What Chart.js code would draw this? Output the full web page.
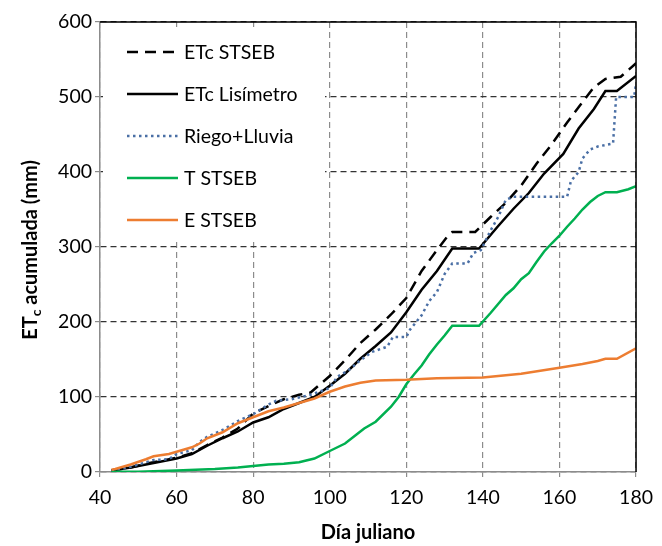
<!DOCTYPE html>
<html>
<head>
<meta charset="utf-8">
<script src="https://cdn.jsdelivr.net/npm/chart.js@4.4.1/dist/chart.umd.min.js"></script>
<style>
  html, body { margin: 0; padding: 0; background: #fff; }
</style>
</head>
<body>
<canvas id="chart" width="662" height="546"></canvas>
<script>
// ETc STSEB (dashed)
const stsebDays = [43, 48, 52, 56, 60, 64, 68, 72, 76, 80, 84, 88, 92, 95, 100, 104, 108, 112, 116, 120, 124, 128, 131, 132, 138, 142, 146, 150, 154, 158, 162, 166, 169, 172, 176, 180]
const stsebVals = [2, 6, 11, 15, 19, 25, 36, 46, 58, 78, 88, 97, 103, 106, 128, 149, 172, 190, 210, 232, 268, 296, 316, 320, 320, 340, 359, 382, 411, 437, 466, 493, 513, 524, 527, 545]

// ETc Lisímetro (solid)
const lisDays = [43, 48, 52, 56, 60, 64, 68, 72, 76, 80, 84, 88, 92, 96, 100, 104, 108, 112, 116, 120, 124, 128, 132, 139, 144, 148, 152, 156, 161, 165, 169, 172, 175, 180]
const lisVals = [2, 6, 10, 14, 18, 24, 35, 45, 54, 66, 73, 84, 92, 100, 115, 131, 151, 168, 186, 213, 243, 268, 298, 298, 328, 351, 372, 398, 424, 458, 484, 508, 508, 528]

// Riego+Lluvia (dotted)
const riegoDays = [43, 48, 52, 54, 58, 60, 64, 66, 68, 72, 76, 80, 84, 86, 90, 95, 100, 102, 105, 108, 111, 115, 116.5, 120, 121, 124, 126, 128, 130, 132, 136, 137.5, 139.5, 142, 144, 146, 148, 162, 163, 165, 166, 168, 170, 174, 174.8, 179.5, 180]
const riegoVals = [2, 7, 13, 16, 17, 24, 29, 40, 47, 56, 68, 77, 90, 95, 97, 103, 112, 127, 136, 149, 160, 167, 180, 180, 190, 209, 228, 240, 264, 278, 278, 292, 296, 322, 340, 363, 367, 367, 388, 400, 418, 430, 434, 438, 500, 500, 518]

// T STSEB
const tDays = [43, 50, 60, 70, 76, 80, 84, 88, 92, 96, 100, 104, 107, 109, 112, 116, 118, 120, 122, 124, 126, 128, 130, 132, 139, 142, 146, 148, 150, 152, 154, 156, 158, 160, 162, 164, 166, 168, 170, 172, 175, 178, 180]
const tVals = [0.5, 0.5, 2, 4, 6, 8, 10, 11, 13, 18, 28, 38, 50, 58, 67, 87, 100, 117, 130, 142, 157, 170, 182, 195, 195, 212, 236, 245, 257, 265, 280, 294, 305, 315, 327, 338, 350, 360, 368, 373, 373, 377, 381]

// E STSEB
const eDays = [43, 44, 48, 52, 54, 58, 60, 64, 66, 68, 72, 76, 80, 84, 88, 92, 96, 100, 104, 108, 112, 120, 128, 140, 150, 160, 166, 170, 172, 175, 180]
const eVals = [3, 4, 10, 17, 21, 24, 27, 33, 38, 45, 53, 65, 73, 81, 86, 92, 98, 107, 114, 119, 122, 123, 125, 126, 131, 139, 144, 148, 151, 151, 165]

const xTicks = [40, 60, 80, 100, 120, 140, 160, 180]
const yTicks = [0, 100, 200, 300, 400, 500, 600]

const toPoints = (days, vals) => days.map((d, i) => ({ x: d, y: vals[i] }))

const FONT = 'Lato'

// legend box inside the plot, titles with subscript, top/right frame
const decorations = {
  id: 'decorations',
  afterDatasetsDraw(chart) {
    const { ctx, chartArea: a } = chart
    ctx.save()
    ctx.fillStyle = '#fff'
    ctx.fillRect(a.left + 3, a.top + 5, 222, 213)

    ctx.font = `19.5px ${FONT}`
    ctx.textBaseline = 'middle'
    chart.data.datasets.forEach((ds, i) => {
      const y = 52 + i * 42
      ctx.beginPath()
      ctx.strokeStyle = ds.borderColor
      ctx.lineWidth = ds.borderWidth
      ctx.setLineDash(ds.borderDash || [])
      ctx.moveTo(127, y)
      ctx.lineTo(178, y)
      ctx.stroke()
      ctx.setLineDash([])
      ctx.fillStyle = '#000'
      ctx.fillText(ds.label, 184, y + 1)
    })
    ctx.restore()
  },
  afterDraw(chart) {
    const { ctx, chartArea: a } = chart
    ctx.save()
    ctx.strokeStyle = '#000'
    ctx.lineWidth = 1.5
    ctx.beginPath()
    ctx.moveTo(a.left, a.top)
    ctx.lineTo(a.right, a.top)
    ctx.lineTo(a.right, a.bottom)
    ctx.stroke()

    ctx.fillStyle = '#000'
    ctx.textBaseline = 'middle'
    ctx.textAlign = 'center'
    ctx.font = `bold 20px ${FONT}`
    ctx.fillText('Día juliano', (a.left + a.right) / 2, 533)

    ctx.translate(31, 250)
    ctx.rotate(-Math.PI / 2)
    ctx.textAlign = 'left'
    const big = `bold 20px ${FONT}`
    const small = `bold 14px ${FONT}`
    ctx.font = big
    const w1 = ctx.measureText('ET').width
    const w3 = ctx.measureText(' acumulada (mm)').width
    ctx.font = small
    const w2 = ctx.measureText('c').width
    let x = -(w1 + w2 + w3) / 2
    ctx.font = big
    ctx.fillText('ET', x, 0)
    x += w1
    ctx.font = small
    ctx.fillText('c', x, 5)
    x += w2
    ctx.font = big
    ctx.fillText(' acumulada (mm)', x, 0)
    ctx.restore()
  }
}

const lineDefaults = { fill: false, pointRadius: 0, tension: 0, borderWidth: 2.5 }

new Chart(document.getElementById('chart'), {
  type: 'line',
  data: {
    datasets: [
      { ...lineDefaults, label: 'ETc STSEB', data: toPoints(stsebDays, stsebVals), borderColor: '#000', borderDash: [11, 7], order: 5 },
      { ...lineDefaults, label: 'ETc Lisímetro', data: toPoints(lisDays, lisVals), borderColor: '#000', order: 4 },
      { ...lineDefaults, label: 'Riego+Lluvia', data: toPoints(riegoDays, riegoVals), borderColor: '#4a6fa5', borderDash: [2.5, 3.5], order: 3 },
      { ...lineDefaults, label: 'T STSEB', data: toPoints(tDays, tVals), borderColor: '#00b050', order: 2 },
      { ...lineDefaults, label: 'E STSEB', data: toPoints(eDays, eVals), borderColor: '#ed7d31', order: 1 }
    ]
  },
  options: {
    responsive: false,
    animation: false,
    layout: { padding: { left: 0, right: 19, top: 22, bottom: 0 } },
    plugins: { legend: { display: false }, tooltip: { enabled: false } },
    scales: {
      x: {
        type: 'linear',
        min: 40,
        max: 180,
        afterBuildTicks: s => { s.ticks = xTicks.map(v => ({ value: v })) },
        afterFit: s => { s.height = 74 },
        ticks: { color: '#000', font: { family: FONT, size: 19.5 }, padding: 9, maxRotation: 0 },
        grid: { color: '#8c8c8c', lineWidth: 1.2, tickLength: 5, tickColor: '#8c8c8c' },
        border: { color: '#8c8c8c', width: 1.5, dash: [6, 4] }
      },
      y: {
        min: 0,
        max: 600,
        afterBuildTicks: s => { s.ticks = yTicks.map(v => ({ value: v })) },
        afterFit: s => { s.width = 100 },
        ticks: { color: '#000', font: { family: FONT, size: 19.5 }, padding: 3 },
        grid: { color: '#333', lineWidth: 1.2, tickLength: 5, tickColor: '#8c8c8c' },
        border: { color: '#8c8c8c', width: 1.5, dash: [6, 4] }
      }
    }
  },
  plugins: [decorations]
})
</script>
</body>
</html>
